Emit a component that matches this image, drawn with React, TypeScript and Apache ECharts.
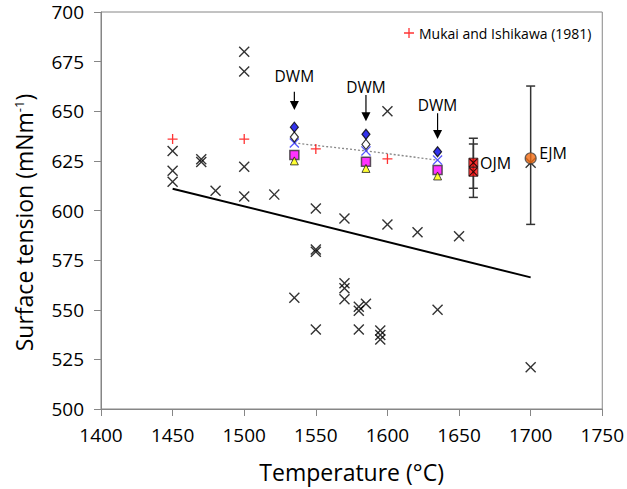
import React, { useEffect, useRef } from "react";
import * as echarts from "echarts";

const FONT = "'Open Sans', 'Noto Sans', sans-serif";

// x ticks / y ticks
const xMin = 1400, xMax = 1750, xStep = 50;
const yMin = 500, yMax = 700, yStep = 25;

// Literature data (black crosses): [temperature, surface tension]
const literaturePoints: number[][] = [
  [1450, 630], [1450, 620], [1450, 614.5], [1470, 625.8], [1470, 624.4], [1480, 610],
  [1500, 680], [1500, 670], [1500, 622], [1500, 607], [1521, 608], [1535, 556],
  [1550, 601], [1550, 580.4], [1550, 579.2], [1550, 540], [1570, 596], [1570, 563.3],
  [1570, 560.8], [1570, 555.3], [1580, 551.5], [1580, 549.5], [1580, 540], [1585, 553],
  [1595, 539.5], [1595, 537.3], [1595, 535], [1600, 593], [1600, 650], [1621, 589],
  [1635, 550], [1650, 587], [1700, 521], [1700, 624],
];

// Mukai and Ishikawa (1981)
const mukaiPoints: number[][] = [[1450, 636], [1500, 636], [1550, 631], [1600, 626]];

// DWM measurements
const dwmBlueDiamond: number[][] = [[1535, 642], [1585, 638.4], [1635, 629.6]];
const dwmWhiteDiamond: number[][] = [[1535, 637], [1585, 633.3]];
const dwmBlueCross: number[][] = [[1535, 634], [1585, 630], [1635, 625.4]];
const dwmSquare: number[][] = [[1535, 628], [1585, 624.6], [1635, 620.4]];
const dwmTriangle: number[][] = [[1535, 625], [1585, 621.2], [1635, 617.4]];

// OJM: [T, value, low, high]
const ojmPoints: number[][] = [[1660, 624.1, 611.2, 636.4], [1660, 619.5, 606.6, 633.5]];
// EJM: [T, value, low, high]
const ejmPoints: number[][] = [[1700, 626.3, 593, 662.7]];

// Trend line of literature data
const trendLine: number[][] = [[1450, 611], [1700, 566.3]];

// DWM annotations: [T, arrow start, arrow tip, text y]
const dwmArrows: number[][] = [
  [1535, 659.8, 650.6, 667.6],
  [1585, 658.2, 645, 662.4],
  [1635, 649, 636, 653],
];
const dwmLabel = "DWM";

// Method labels: [T, y]
const methodLabelNames = ["OJM", "EJM"];
const methodLabelPos: number[][] = [[1664.6, 624.1], [1706, 628.8]];

const CROSS = "path://M0,0.9L0.9,0L5,4.1L9.1,0L10,0.9L5.9,5L10,9.1L9.1,10L5,5.9L0.9,10L0,9.1L4.1,5Z";
const PLUS = "path://M4.35,0H5.65V4.35H10V5.65H5.65V10H4.35V5.65H0V4.35H4.35Z";

export default function App() {
  const ref = useRef<HTMLDivElement>(null);
  useEffect(() => {
    if (!ref.current) return;
    const chart = echarts.init(ref.current, null, { renderer: "svg" });
    const axisGray = "#868686";

    const errorBarRender = (params: any, api: any) => {
      const x = api.value(0);
      const lo = api.coord([x, api.value(2)]);
      const hi = api.coord([x, api.value(3)]);
      const w = 4.5;
      const st = { stroke: "#333", lineWidth: 1.5 };
      return {
        type: "group",
        children: [
          { type: "line", shape: { x1: lo[0], y1: lo[1], x2: hi[0], y2: hi[1] }, style: st },
          { type: "line", shape: { x1: lo[0] - w, y1: lo[1], x2: lo[0] + w, y2: lo[1] }, style: st },
          { type: "line", shape: { x1: hi[0] - w, y1: hi[1], x2: hi[0] + w, y2: hi[1] }, style: st },
        ],
      };
    };

    chart.setOption({
      animation: false,
      textStyle: { fontFamily: FONT },
      grid: {
        left: 101, top: 12, width: 504, height: 397,
        show: true, borderColor: axisGray, borderWidth: 1, containLabel: false,
      },
      legend: {
        data: ["Mukai and Ishikawa (1981)"],
        left: 399, top: 21, itemWidth: 10, itemHeight: 10,
        textStyle: { fontSize: 14, color: "#000", fontFamily: FONT },
      },
      xAxis: {
        type: "value", min: xMin, max: xMax, interval: xStep,
        name: "Temperature (°C)", nameLocation: "middle", nameGap: 51,
        nameTextStyle: { fontSize: 23, color: "#000", fontFamily: FONT },
        axisLine: { show: true, lineStyle: { color: axisGray, width: 1 } },
        axisTick: { show: true, length: 7, lineStyle: { color: axisGray } },
        axisLabel: { fontSize: 19, color: "#000", margin: 16, fontFamily: FONT, formatter: (v: number) => String(v) },
        splitLine: { show: false },
      },
      yAxis: {
        type: "value", min: yMin, max: yMax, interval: yStep,
        name: "Surface tension (mNm{sup|-1})", nameLocation: "middle", nameGap: 66,
        nameTextStyle: {
          fontSize: 23, color: "#000", fontFamily: FONT, padding: [0, 24, 0, 0],
          rich: { sup: { fontSize: 13, color: "#000", fontFamily: FONT, verticalAlign: "top", padding: [0, 0, 8, 0] } },
        },
        axisLine: { show: true, lineStyle: { color: axisGray, width: 1 } },
        axisTick: { show: true, length: 7, lineStyle: { color: axisGray } },
        axisLabel: { fontSize: 19, color: "#000", margin: 17, fontFamily: FONT, formatter: (v: number) => String(v) },
        splitLine: { show: false },
      },
      series: [
        {
          name: "trend", type: "line", data: trendLine, symbol: "none",
          lineStyle: { color: "#000", width: 2 }, z: 2,
        },
        {
          name: "dwmfit", type: "line", data: dwmBlueCross, symbol: "none",
          lineStyle: { color: "#888", width: 1.3, type: [2, 2] }, z: 2,
        },
        {
          name: "errbars", type: "custom", renderItem: errorBarRender,
          data: [...ojmPoints, ...ejmPoints], encode: { x: 0, y: [1, 2, 3] }, z: 3,
        },
        {
          name: "literature", type: "scatter", data: literaturePoints, symbol: CROSS, symbolSize: 11,
          itemStyle: { color: "#000" }, z: 4,
        },
        {
          name: "Mukai and Ishikawa (1981)", type: "scatter", data: mukaiPoints, symbol: PLUS, symbolSize: 10,
          itemStyle: { color: "#FF0000" }, z: 5,
        },
        {
          name: "dwmSquare", type: "scatter", data: dwmSquare, symbol: "rect", symbolSize: 9,
          itemStyle: { color: "#FF00FF", borderColor: "#333", borderWidth: 1.5 }, z: 5,
        },
        {
          name: "dwmTriangle", type: "scatter", data: dwmTriangle, symbol: "triangle", symbolSize: [8, 8],
          itemStyle: { color: "#FFFF00", borderColor: "#222", borderWidth: 1 }, z: 6,
        },
        {
          name: "dwmBlueCross", type: "scatter", data: dwmBlueCross, symbol: CROSS, symbolSize: 10,
          itemStyle: { color: "#2B2BFF" }, z: 6,
        },
        {
          name: "dwmWhiteDiamond", type: "scatter", data: dwmWhiteDiamond, symbol: "diamond", symbolSize: [8, 10],
          itemStyle: { color: "#FFFFFF", borderColor: "#000", borderWidth: 1.2 }, z: 6,
        },
        {
          name: "dwmBlueDiamond", type: "scatter", data: dwmBlueDiamond, symbol: "diamond", symbolSize: [8, 10],
          itemStyle: { color: "#0000E6", borderColor: "#000", borderWidth: 1.2 }, z: 6,
        },
        {
          name: "ojmSquare", type: "scatter", data: ojmPoints.map((p) => [p[0], p[1]]), symbol: "rect", symbolSize: 9,
          itemStyle: { color: "#FF0000", borderColor: "#222", borderWidth: 1 }, z: 6,
        },
        {
          name: "ojmCross", type: "scatter", data: ojmPoints.map((p) => [p[0], p[1]]), symbol: CROSS, symbolSize: 9,
          itemStyle: { color: "#000" }, z: 7,
        },
        {
          name: "ejm", type: "scatter", data: ejmPoints.map((p) => [p[0], p[1]]), symbol: "circle", symbolSize: 11,
          itemStyle: { color: "#F26B12", borderColor: "#444", borderWidth: 1.2 }, z: 7,
        },
        {
          name: "arrows", type: "custom", data: dwmArrows, encode: { x: 0, y: [1, 2, 3] }, z: 8,
          renderItem: (params: any, api: any) => {
            const x = api.value(0);
            const start = api.coord([x, api.value(1)]);
            const tip = api.coord([x, api.value(2)]);
            const txt = api.coord([x, api.value(3)]);
            const head = 9;
            return {
              type: "group",
              children: [
                {
                  type: "line",
                  shape: { x1: start[0], y1: start[1], x2: tip[0], y2: tip[1] - head + 1 },
                  style: { stroke: "#000", lineWidth: 1.2 },
                },
                {
                  type: "polygon",
                  shape: { points: [[tip[0] - 4.5, tip[1] - head], [tip[0] + 4.5, tip[1] - head], [tip[0], tip[1]]] },
                  style: { fill: "#000" },
                },
                {
                  type: "text",
                  style: {
                    text: dwmLabel, x: txt[0], y: txt[1], align: "center", verticalAlign: "middle",
                    fontSize: 15.5, fontFamily: FONT, fill: "#000",
                  },
                },
              ],
            };
          },
        },
        {
          name: "methodLabels", type: "custom", data: methodLabelPos, encode: { x: 0, y: 1 }, z: 8,
          renderItem: (params: any, api: any) => {
            const p = api.coord([api.value(0), api.value(1)]);
            return {
              type: "text",
              style: {
                text: methodLabelNames[params.dataIndex], x: p[0], y: p[1], align: "left", verticalAlign: "middle",
                fontSize: 16, fontFamily: FONT, fill: "#000",
              },
            };
          },
        },
      ],
    });
    return () => chart.dispose();
  }, []);
  return <div ref={ref} style={{ width: 627, height: 489, position: "absolute", left: 0, top: 0 }} />;
}
